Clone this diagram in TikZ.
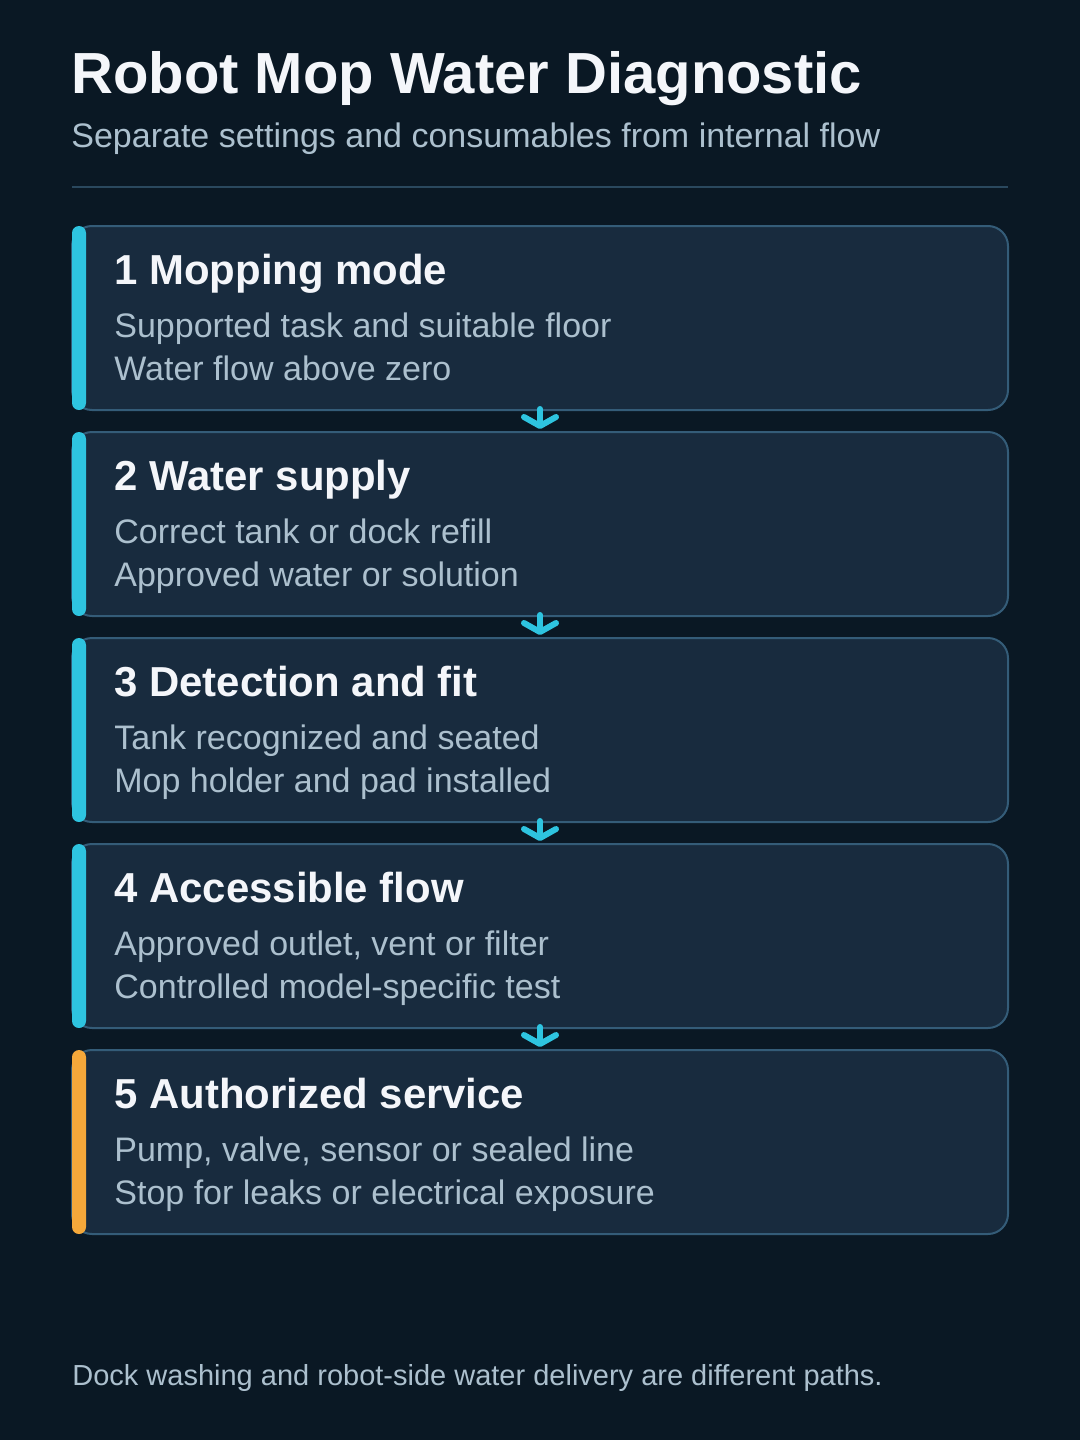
\documentclass[tikz,border=0pt]{standalone}
\usepackage{fontspec}
\setmainfont{Liberation Sans}
\usepackage{xcolor}
\usetikzlibrary{arrows.meta}
\definecolor{nightColor}{RGB}{10, 24, 36}
\definecolor{cardColor}{RGB}{24, 43, 62}
\definecolor{edgeColor}{RGB}{52, 92, 120}
\definecolor{ruleColor}{RGB}{42, 72, 94}
\definecolor{cyanColor}{RGB}{46, 196, 224}
\definecolor{amberColor}{RGB}{245, 168, 58}
\definecolor{headColor}{RGB}{244, 246, 250}
\definecolor{mutedColor}{RGB}{172, 192, 206}

\tikzset{
  stepcard/.style={draw=edgeColor, line width=1pt, fill=cardColor, rounded corners=10pt, minimum width=468pt, minimum height=92pt},
  accentbar/.style={fill=#1, rounded corners=3.5pt, minimum width=7pt, minimum height=92pt, inner sep=0pt},
  cardtitle/.style={anchor=base west, inner sep=0pt, text=headColor, font=\fontsize{20.95}{24}\selectfont\bfseries},
  cardline/.style={anchor=base west, inner sep=0pt, text=mutedColor, font=\fontsize{17}{20}\selectfont},
  flowarrow/.style={-{Straight Barb[length=4.5pt, width=16pt, round]}, line width=3pt, cyanColor, line cap=round, shorten >=1pt}
}

\begin{document}
\begin{tikzpicture}[x=0.5pt, y=-0.5pt]
  \fill[nightColor] (0,0) rectangle (1080,1440);
  % header
  \node[anchor=base west, inner sep=0pt, text=headColor, font=\fontsize{29}{32}\selectfont\bfseries] (title) at (71,93) {Robot Mop Water Diagnostic};
  \node[anchor=base west, inner sep=0pt, text=mutedColor, font=\fontsize{17}{20}\selectfont] (subtitle) at (71,147) {Separate settings and consumables from internal flow};
  \coordinate (ruleL) at (72,187);
  \coordinate (ruleR) at (1008,187);
  \draw[ruleColor, line width=1pt] (ruleL) -- (ruleR);

  % step cards
  \node[stepcard] (c1) at (540,318) {};
  \node[accentbar=cyanColor] (a1) at (79,318) {};
  \node[cardtitle] (t1) at (114,284) {1 Mopping mode};
  \node[cardline] (l1a) at (114,337) {Supported task and suitable floor};
  \node[cardline] (l1b) at (114,380) {Water flow above zero};

  \node[stepcard] (c2) at (540,524) {};
  \node[accentbar=cyanColor] (a2) at (79,524) {};
  \node[cardtitle] (t2) at (114,490) {2 Water supply};
  \node[cardline] (l2a) at (114,543) {Correct tank or dock refill};
  \node[cardline] (l2b) at (114,586) {Approved water or solution};

  \node[stepcard] (c3) at (540,730) {};
  \node[accentbar=cyanColor] (a3) at (79,730) {};
  \node[cardtitle] (t3) at (114,696) {3 Detection and fit};
  \node[cardline] (l3a) at (114,749) {Tank recognized and seated};
  \node[cardline] (l3b) at (114,792) {Mop holder and pad installed};

  \node[stepcard] (c4) at (540,936) {};
  \node[accentbar=cyanColor] (a4) at (79,936) {};
  \node[cardtitle] (t4) at (114,902) {4 Accessible flow};
  \node[cardline] (l4a) at (114,955) {Approved outlet, vent or filter};
  \node[cardline] (l4b) at (114,998) {Controlled model-specific test};

  \node[stepcard] (c5) at (540,1142) {};
  \node[accentbar=amberColor] (a5) at (79,1142) {};
  \node[cardtitle] (t5) at (114,1108) {5 Authorized service};
  \node[cardline] (l5a) at (114,1161) {Pump, valve, sensor or sealed line};
  \node[cardline] (l5b) at (114,1204) {Stop for leaks or electrical exposure};

  % arrows between cards
  \draw[flowarrow] ([yshift=1pt]c1.south) -- (c2.north);
  \draw[flowarrow] ([yshift=1pt]c2.south) -- (c3.north);
  \draw[flowarrow] ([yshift=1pt]c3.south) -- (c4.north);
  \draw[flowarrow] ([yshift=1pt]c4.south) -- (c5.north);

  % footer
  \node[anchor=base west, inner sep=0pt, text=mutedColor, font=\fontsize{14.5}{18}\selectfont] (note) at (72,1385) {Dock washing and robot-side water delivery are different paths.};
\end{tikzpicture}
\end{document}
